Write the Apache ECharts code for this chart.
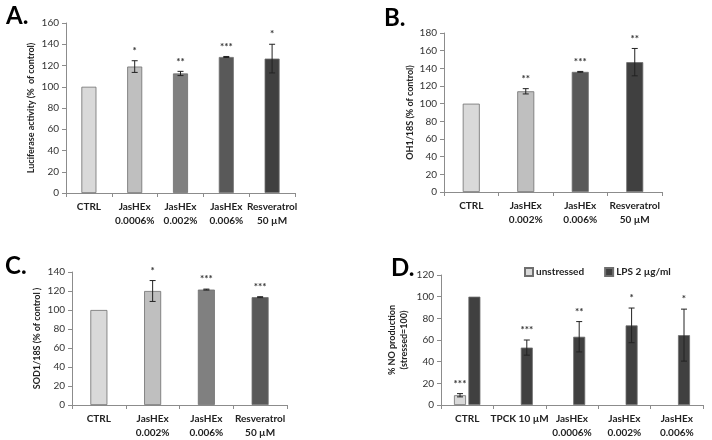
<!DOCTYPE html>
<html><head><meta charset="utf-8">
<script src="https://cdn.jsdelivr.net/npm/echarts@6/dist/echarts.min.js"></script>
<style>html,body{margin:0;padding:0;background:#fff}#c{width:712px;height:440px}</style>
</head><body><div id="c"></div>
<script>
// Panel A
const catsA = ['CTRL','JasHEx\n0.0006%','JasHEx\n0.002%','JasHEx\n0.006%','Resveratrol\n50 µM'];
const valsA = [100,119,112.5,128,126.5];
const errA  = [0,5.5,2,0.5,13.5];
const sigA  = ['','*','**','***','*'];
const yTicksA = [0,20,40,60,80,100,120,140,160];
// Panel B
const catsB = ['CTRL','JasHEx\n0.002%','JasHEx\n0.006%','Resveratrol\n50 µM'];
const valsB = [100,114,136,147];
const errB  = [0,3,0.5,15.5];
const sigB  = ['','**','***','**'];
const yTicksB = [0,20,40,60,80,100,120,140,160,180];
// Panel C
const catsC = ['CTRL','JasHEx\n0.002%','JasHEx\n0.006%','Resveratrol\n50 µM'];
const valsC = [100,120,121.5,113.5];
const errC  = [0,11,0.5,0.5];
const sigC  = ['','*','***','***'];
const yTicksC = [0,20,40,60,80,100,120,140];
// Panel D
const catsD = ['CTRL','TPCK 10 µM','JasHEx\n0.0006%','JasHEx\n0.002%','JasHEx\n0.006%'];
const unstressedD = [9,null,null,null,null];
const errUD = [1.5,0,0,0,0];
const sigUD = ['***','','','',''];
const lpsD = [100,53,63,73.5,64.5];
const errLD = [0,7,14,16,24];
const sigLD = ['','***','**','*','*'];
const yTicksD = [0,20,40,60,80,100,120];

const FONT = 'Lato, "Open Sans", sans-serif';
const colorsA = ['#d9d9d9','#bfbfbf','#808080','#595959','#404040'];
const colorsB = ['#d9d9d9','#bfbfbf','#595959','#404040'];
const colorsC = ['#d9d9d9','#bfbfbf','#808080','#595959'];

const chart = echarts.init(document.getElementById('c'));

function xAx(gi, cats){
  return {type:'category', gridIndex:gi, data:cats,
    axisLine:{lineStyle:{color:'#8c8c8c'}},
    axisTick:{show:true, length:4, lineStyle:{color:'#8c8c8c'}},
    axisLabel:{interval:0, fontFamily:FONT, fontWeight:'bold', fontSize:10, color:'#222', margin:7, lineHeight:14}};
}
function yAx(gi, ticks, name, gap){
  return {type:'value', gridIndex:gi, min:ticks[0], max:ticks[ticks.length-1], interval:ticks[1]-ticks[0],
    name:name, nameLocation:'middle', nameGap:gap, nameRotate:90,
    nameTextStyle:{fontFamily:FONT, fontWeight:'bold', fontSize:9, color:'#222', lineHeight:12},
    axisLine:{show:true, lineStyle:{color:'#8c8c8c'}},
    axisTick:{show:true, length:4, lineStyle:{color:'#8c8c8c'}},
    splitLine:{show:false},
    axisLabel:{fontFamily:FONT, fontSize:10, color:'#333', margin:7}};
}
function barS(gi, vals, colors, bw, name, gap){
  const multi = Array.isArray(colors);
  return {type:'bar', name:name, xAxisIndex:gi, yAxisIndex:gi, barWidth:bw, barGap:gap,
    data: vals.map((v,i)=> multi ? {value:v, itemStyle:{color:colors[i]}} : v),
    itemStyle:{color: multi ? colors[0] : colors, borderColor:'#6e6e6e', borderWidth:0.8}, z:2};
}
function errS(gi, vals, errs, sigs, offset){
  return {type:'custom', xAxisIndex:gi, yAxisIndex:gi, z:5, silent:true,
    data: vals.map((v,i)=>[i, v==null?0:v]),
    renderItem:function(params, api){
      const i = params.dataIndex;
      const v = vals[i]; if (v==null) return null;
      const e = errs[i];
      const top = api.coord([i, v+e]);
      const bot = api.coord([i, v-e]);
      const x = top[0] + offset;
      const children = [];
      if (e>0){
        children.push({type:'line', shape:{x1:x,y1:top[1],x2:x,y2:bot[1]}, style:{stroke:'#222', lineWidth:1}});
        children.push({type:'line', shape:{x1:x-3,y1:top[1],x2:x+3,y2:top[1]}, style:{stroke:'#222', lineWidth:1}});
        children.push({type:'line', shape:{x1:x-3,y1:bot[1],x2:x+3,y2:bot[1]}, style:{stroke:'#222', lineWidth:1}});
      }
      if (sigs[i]){
        children.push({type:'text', style:{text:sigs[i], x:x, y:top[1]-5, textAlign:'center', textVerticalAlign:'bottom',
          font:'bold 10px '+FONT, fill:'#333'}});
      }
      return {type:'group', children:children};
    }};
}

chart.setOption({
  animation:false,
  textStyle:{fontFamily:FONT},
  grid:[
    {left:66, top:23, width:229, height:170},
    {left:444, top:33, width:218, height:159},
    {left:72, top:272, width:215, height:137},
    {left:441, top:275, width:262, height:133}
  ],
  xAxis:[xAx(0,catsA), xAx(1,catsB), xAx(2,catsC), xAx(3,catsD)],
  yAxis:[
    yAx(0,yTicksA,'Luciferase activity (%  of control)',29),
    yAx(1,yTicksB,'OH1/18S (% of control)',26),
    yAx(2,yTicksC,'SOD1/18S (% of control )',29),
    yAx(3,yTicksD,'% NO production\n(stressed=100)',31)
  ],
  legend:{data:['unstressed','LPS 2 µg/ml'], left:519, top:262, itemWidth:8, itemHeight:8, itemGap:20,
    icon:'rect', textStyle:{fontFamily:FONT, fontWeight:'bold', fontSize:10, color:'#222', padding:[0,0,0,-2]}},
  graphic:[
    {type:'text', left:6, top:4, style:{text:'A.', font:'bold 24px '+FONT, fill:'#000'}},
    {type:'text', left:384, top:6, style:{text:'B.', font:'bold 24px '+FONT, fill:'#000'}},
    {type:'text', left:5, top:254, style:{text:'C.', font:'bold 24px '+FONT, fill:'#000'}},
    {type:'text', left:391, top:256, style:{text:'D.', font:'bold 24px '+FONT, fill:'#000'}}
  ],
  series:[
    barS(0, valsA, colorsA, 15),
    errS(0, valsA, errA, sigA, 0),
    barS(1, valsB, colorsB, 17),
    errS(1, valsB, errB, sigB, 0),
    barS(2, valsC, colorsC, 17),
    errS(2, valsC, errC, sigC, 0),
    barS(3, unstressedD, '#d9d9d9', 12, 'unstressed', '20%'),
    barS(3, lpsD, '#404040', 12, 'LPS 2 µg/ml', '20%'),
    errS(3, unstressedD, errUD, sigUD, -7.2),
    errS(3, lpsD, errLD, sigLD, 7.2)
  ]
});
</script></body></html>
